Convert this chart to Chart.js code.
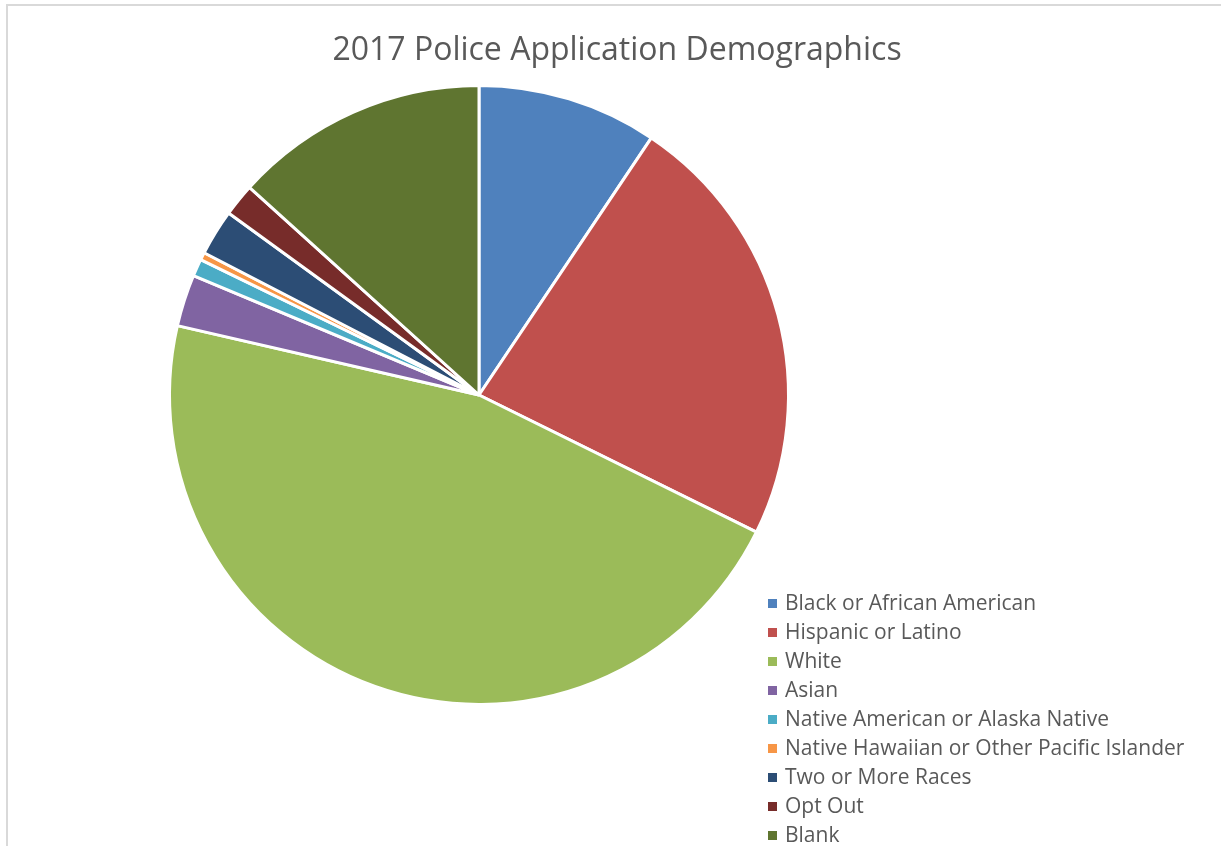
<!DOCTYPE html>
<html>
<head>
<meta charset="utf-8">
<title>2017 Police Application Demographics</title>
<script src="https://cdn.jsdelivr.net/npm/chart.js@4.4.1/dist/chart.umd.min.js"></script>
<style>
  html, body { margin: 0; padding: 0; background: #fff; }
  #wrap { position: relative; width: 1221px; height: 846px; }
</style>
</head>
<body>
<div id="wrap"><canvas id="pieChart" width="1221" height="846"></canvas></div>
<script>
/* 2017 Police Application Demographics — pie */

const categories = [
  'Black or African American',
  'Hispanic or Latino',
  'White',
  'Asian',
  'Native American or Alaska Native',
  'Native Hawaiian or Other Pacific Islander',
  'Two or More Races',
  'Opt Out',
  'Blank'
];
const shares = [9.4, 22.9, 46.3, 2.7, 0.9, 0.4, 2.4, 1.7, 13.3];   // % of applicants
const sliceColors = ['#4f81bd', '#c0504d', '#9bbb59', '#8064a2', '#4bacc6',
                     '#f79646', '#2c4d75', '#772c2a', '#5f7530'];
const chartTitle = '2017 Police Application Demographics';

const FONT = '"Open Sans", "Noto Sans", sans-serif';
const TEXT = '#595959';

// frame, title and legend drawn in the Excel style
const excelDecor = {
  id: 'excelDecor',
  beforeDraw(chart) {
    const c = chart.ctx;
    c.save();
    c.strokeStyle = '#d9d9d9';
    c.lineWidth = 2;
    c.beginPath();
    c.moveTo(7, chart.height);
    c.lineTo(7, 5);
    c.lineTo(chart.width, 5);
    c.stroke();
    c.restore();
  },
  afterDraw(chart) {
    const c = chart.ctx;
    const ds = chart.data.datasets[0];
    c.save();
    c.fillStyle = TEXT;
    c.textBaseline = 'middle';

    c.font = '32px ' + FONT;
    c.textAlign = 'center';
    c.fillText(chartTitle, 617, 51);

    c.font = '21px ' + FONT;
    c.textAlign = 'left';
    chart.data.labels.forEach((lbl, i) => {
      const y = 604 + i * 29;
      c.fillStyle = ds.backgroundColor[i];
      c.fillRect(768, y - 5, 9, 9);
      c.fillStyle = TEXT;
      c.fillText(lbl, 785, y);
    });
    c.restore();
  }
};

const ctx = document.getElementById('pieChart').getContext('2d');
new Chart(ctx, {
  type: 'pie',
  data: {
    labels: categories,
    datasets: [{
      data: shares,
      backgroundColor: sliceColors,
      borderColor: '#ffffff',
      borderWidth: 3,
      hoverOffset: 0,
      offset: 0
    }]
  },
  options: {
    responsive: false,
    animation: false,
    layout: { padding: { left: 168, right: 431, top: 84, bottom: 140 } },
    plugins: {
      legend: { display: false },
      title: { display: false },
      tooltip: { enabled: false }
    }
  },
  plugins: [excelDecor]
});
</script>
</body>
</html>
